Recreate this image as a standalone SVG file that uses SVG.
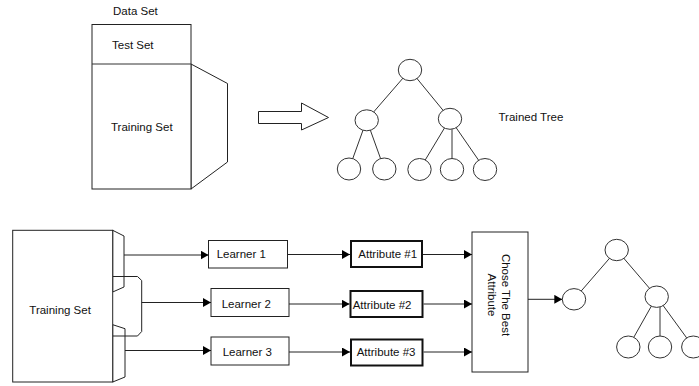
<svg xmlns="http://www.w3.org/2000/svg" width="699" height="386" viewBox="0 0 699 386">
<defs>
<marker id="ah" markerUnits="userSpaceOnUse" markerWidth="8" markerHeight="9" refX="8" refY="4.5" orient="auto">
<path d="M0,0 L8,4.5 L0,9 z" fill="#000"/>
</marker>
<style>
text{font-family:"Liberation Sans",Arial,sans-serif;font-size:11.5px;fill:#111}
.sh{fill:#fff;stroke:#222;stroke-width:1}
.so{fill:none;stroke:#222;stroke-width:1}
.bx{fill:#fff;stroke:#222;stroke-width:1}
.bb{fill:#fff;stroke:#111;stroke-width:2}
.nd{fill:#fff;stroke:#333;stroke-width:1}
.ln{stroke:#333;stroke-width:1;fill:none}
.cn{stroke:#222;stroke-width:1;fill:none;marker-end:url(#ah)}
</style>
</defs>
<rect width="699" height="386" fill="#fff"/>

<!-- Top: data set -->
<g id="dataset">
<text x="113" y="14.5">Data Set</text>
<polygon class="sh" points="191,64 227.5,83.5 227.5,162 191,189"/>
<rect class="sh" x="92" y="24.5" width="99" height="164.5"/>
<line class="ln" x1="92" y1="64" x2="191" y2="64"/>
<text x="112" y="48.5">Test Set</text>
<text x="111" y="131">Training Set</text>
</g>

<g id="bigarrow">
<polygon class="sh" points="258.5,111.5 301.5,111.5 301.5,103 328.5,117.5 301.5,130 301.5,123.5 258.5,123.5"/>
</g>

<!-- Top tree -->
<g id="tree1">
<g class="ln">
<line x1="410" y1="70" x2="366.7" y2="120"/>
<line x1="410" y1="70" x2="450" y2="118.8"/>
<line x1="366.7" y1="120" x2="349" y2="169"/>
<line x1="366.7" y1="120" x2="384.3" y2="169"/>
<line x1="450" y1="118.8" x2="419.5" y2="169.5"/>
<line x1="452" y1="118.8" x2="452" y2="169.5"/>
<line x1="450" y1="118.8" x2="485" y2="169.5"/>
</g>
<ellipse class="nd" cx="410" cy="70" rx="11.7" ry="10.7"/>
<ellipse class="nd" cx="366.7" cy="120.3" rx="11.7" ry="10.5"/>
<ellipse class="nd" cx="450" cy="118.8" rx="11.7" ry="10.5"/>
<ellipse class="nd" cx="349" cy="169" rx="11.7" ry="11"/>
<ellipse class="nd" cx="384.3" cy="169" rx="11.7" ry="11"/>
<ellipse class="nd" cx="419.5" cy="169.5" rx="11.7" ry="11"/>
<ellipse class="nd" cx="452" cy="169.5" rx="11.7" ry="11"/>
<ellipse class="nd" cx="485" cy="169.5" rx="11.7" ry="11"/>
<text x="498.5" y="120.5">Trained Tree</text>
</g>

<!-- Bottom: training set -->
<g id="training">
<polygon class="so" points="112.7,230.3 124,236 124,287 112.7,292"/>
<path class="so" d="M112.7,276.5 H137.5 L141.7,280.5 V331.5 L137.5,336 H112.7"/>
<polygon class="so" points="112.7,324.7 125,328.7 125,377 112.7,382"/>
<rect class="sh" x="12.7" y="230.3" width="100" height="151.7"/>
<text x="29.3" y="314">Training Set</text>
</g>

<g id="learner1"><rect class="bx" x="208.5" y="240.5" width="79" height="27.5"/><text x="216.7" y="258">Learner 1</text></g>
<g id="learner2"><rect class="bx" x="211" y="288.5" width="78" height="28"/><text x="221.7" y="307.5">Learner 2</text></g>
<g id="learner3"><rect class="bx" x="211" y="337" width="78" height="28"/><text x="222.7" y="355.7">Learner 3</text></g>

<g id="attr1"><rect class="bb" x="351" y="241" width="71" height="26"/><text x="358.3" y="258">Attribute #1</text></g>
<g id="attr2"><rect class="bb" x="350.5" y="291" width="72" height="26"/><text x="352.7" y="308.5">Attribute #2</text></g>
<g id="attr3"><rect class="bb" x="351" y="339.5" width="71.5" height="26"/><text x="356.7" y="356">Attribute #3</text></g>

<g id="chose">
<rect class="bx" x="472" y="232" width="56" height="140"/>
<g transform="translate(495,295) rotate(90)">
<text x="0" y="-7" text-anchor="middle">Chose The Best</text>
<text x="0" y="7.5" text-anchor="middle">Attribute</text>
</g>
</g>

<!-- Bottom tree -->
<g id="tree2">
<g class="ln">
<line x1="616.7" y1="250" x2="574" y2="299.3"/>
<line x1="616.7" y1="250" x2="656.7" y2="296.7"/>
<line x1="656.7" y1="296.7" x2="628.3" y2="347"/>
<line x1="660" y1="296.7" x2="660" y2="347"/>
<line x1="656.7" y1="296.7" x2="693.3" y2="347"/>
</g>
<ellipse class="nd" cx="616.7" cy="250" rx="11.7" ry="10.7"/>
<ellipse class="nd" cx="574" cy="299.3" rx="11.7" ry="10.7"/>
<ellipse class="nd" cx="656.7" cy="296.7" rx="11.7" ry="10.7"/>
<ellipse class="nd" cx="628.3" cy="347" rx="11.7" ry="11"/>
<ellipse class="nd" cx="660" cy="347" rx="11.7" ry="11"/>
<ellipse class="nd" cx="693.3" cy="347" rx="11.7" ry="11"/>
</g>

<g id="connectors">
<line class="cn" x1="124" y1="255" x2="208.5" y2="255"/>
<line class="cn" x1="141.7" y1="302.5" x2="211" y2="302.5"/>
<line class="cn" x1="125" y1="350.5" x2="211" y2="350.5"/>
<line class="cn" x1="287.5" y1="254.5" x2="350" y2="254.5"/>
<line class="cn" x1="289" y1="304" x2="349.5" y2="304"/>
<line class="cn" x1="289" y1="352" x2="350" y2="352"/>
<line class="cn" x1="423" y1="254.5" x2="472" y2="254.5"/>
<line class="cn" x1="423.5" y1="304" x2="472" y2="304"/>
<line class="cn" x1="423.5" y1="352" x2="472" y2="352"/>
<line class="cn" x1="528" y1="299.3" x2="562.3" y2="299.3"/>
</g>
</svg>
